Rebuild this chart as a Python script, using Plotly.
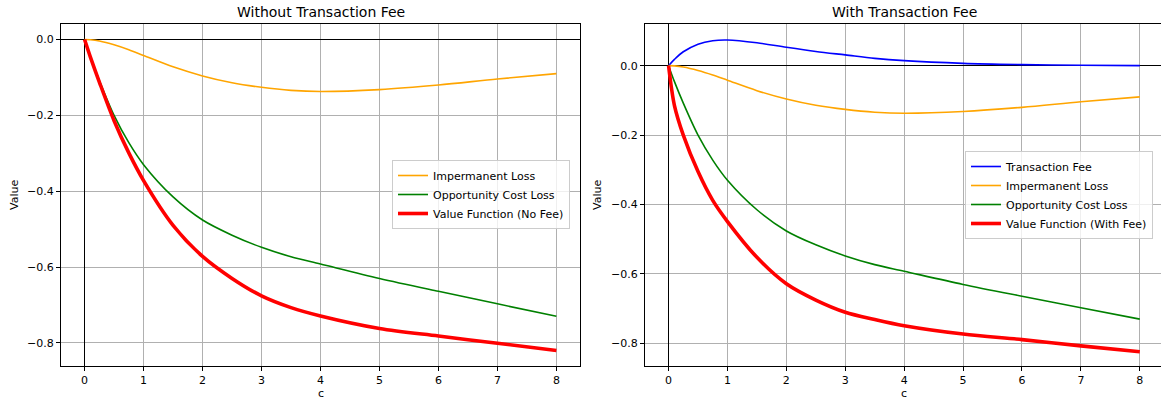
import plotly.graph_objects as go

# ---- data ----
c_vals = [0, 0.1, 0.25, 0.5, 0.75, 1, 1.5, 2, 2.5, 3, 3.5, 4, 5, 6, 7, 8]

transaction_fee = [0.0, 0.018, 0.040, 0.062, 0.072, 0.074, 0.066, 0.053, 0.041, 0.031, 0.021, 0.0144, 0.0067, 0.003, 0.001, 0.0]
impermanent_loss = [0.0, -0.0007, -0.004, -0.014, -0.027, -0.042, -0.072, -0.096, -0.114, -0.126, -0.134, -0.137, -0.132, -0.120, -0.104, -0.090]
opportunity_cost = [0.0, -0.046, -0.108, -0.200, -0.272, -0.330, -0.415, -0.476, -0.516, -0.548, -0.573, -0.592, -0.630, -0.664, -0.697, -0.730]
value_no_fee = [0.0, -0.047, -0.112, -0.214, -0.299, -0.372, -0.490, -0.572, -0.630, -0.676, -0.707, -0.729, -0.762, -0.782, -0.801, -0.820]
value_with_fee = [0.0, -0.115, -0.200, -0.305, -0.388, -0.449, -0.552, -0.628, -0.675, -0.710, -0.731, -0.749, -0.773, -0.789, -0.807, -0.824]

x_tick_vals = [0, 1, 2, 3, 4, 5, 6, 7, 8]
x_tick_text = ["0", "1", "2", "3", "4", "5", "6", "7", "8"]
y_tick_vals = [0.0, -0.2, -0.4, -0.6, -0.8]
y_tick_text = ["0.0", "\u22120.2", "\u22120.4", "\u22120.6", "\u22120.8"]

titles = ["Without Transaction Fee", "With Transaction Fee"]

W, H = 1161, 400
FONT = "DejaVu Sans"

fig = go.Figure()

def add(x, y, name, color, width, xa, ya, legend):
    fig.add_trace(go.Scatter(
        x=x, y=y, name=name, mode="lines",
        line=dict(color=color, width=width, shape="spline", smoothing=0.9),
        xaxis=xa, yaxis=ya, legend=legend, hoverinfo="skip",
    ))

# left panel
add(c_vals, impermanent_loss, "Impermanent Loss", "orange", 1.6, "x", "y", "legend")
add(c_vals, opportunity_cost, "Opportunity Cost Loss", "green", 1.6, "x", "y", "legend")
add(c_vals, value_no_fee, "Value Function (No Fee)", "red", 3.6, "x", "y", "legend")

# right panel
add(c_vals, transaction_fee, "Transaction Fee", "blue", 1.6, "x2", "y2", "legend2")
add(c_vals, impermanent_loss, "Impermanent Loss", "orange", 1.6, "x2", "y2", "legend2")
add(c_vals, opportunity_cost, "Opportunity Cost Loss", "green", 1.6, "x2", "y2", "legend2")
add(c_vals, value_with_fee, "Value Function (With Fee)", "red", 3.6, "x2", "y2", "legend2")

def px_x(p):
    return p / W

def px_y(p):
    return 1 - p / H

axis_common = dict(
    showgrid=True, gridcolor="#b0b0b0", gridwidth=0.8,
    zeroline=True, zerolinecolor="black", zerolinewidth=1,
    showline=True, mirror=True, linecolor="black", linewidth=1,
    ticks="outside", ticklen=4, tickcolor="black", tickwidth=1,
    tickfont=dict(family=FONT, size=11, color="black"),
    automargin=False, fixedrange=True,
)

L_dom = [px_x(61), px_x(580)]
R_dom = [px_x(645), 1.0]
Y_dom = [px_y(366), px_y(24)]

legend_common = dict(
    xanchor="left", yanchor="top",
    bgcolor="rgba(255,255,255,0.8)", bordercolor="#cccccc", borderwidth=1,
    font=dict(family=FONT, size=11, color="black"),
    itemwidth=30, tracegroupgap=0,
)

fig.update_layout(
    width=W, height=H,
    margin=dict(l=0, r=0, t=0, b=0),
    paper_bgcolor="white", plot_bgcolor="white",
    font=dict(family=FONT, size=11, color="black"),
    xaxis=dict(domain=L_dom, range=[-0.4, 8.4], anchor="y",
               tickvals=x_tick_vals, ticktext=x_tick_text, **axis_common),
    yaxis=dict(domain=Y_dom, range=[-0.861, 0.041], anchor="x",
               tickvals=y_tick_vals, ticktext=y_tick_text, **axis_common),
    xaxis2=dict(domain=R_dom, range=[-0.4, 8.36], anchor="y2",
                tickvals=x_tick_vals, ticktext=x_tick_text, **axis_common),
    yaxis2=dict(domain=Y_dom, range=[-0.865, 0.12], anchor="x2",
                tickvals=y_tick_vals, ticktext=y_tick_text, **axis_common),
    legend=dict(x=px_x(392), y=px_y(160), **legend_common),
    legend2=dict(x=px_x(965), y=px_y(151), **legend_common),
    showlegend=True,
)

annos = []
centers = [(61 + 580) / 2, (645 + 1163) / 2]
for cx, t in zip(centers, titles):
    annos.append(dict(text=t, x=px_x(cx), y=px_y(12), xref="paper", yref="paper",
                      xanchor="center", yanchor="middle", showarrow=False,
                      font=dict(family=FONT, size=14, color="black")))
    annos.append(dict(text="c", x=px_x(cx), y=px_y(393), xref="paper", yref="paper",
                      xanchor="center", yanchor="middle", showarrow=False,
                      font=dict(family=FONT, size=11, color="black")))
for vx in [14, 597]:
    annos.append(dict(text="Value", x=px_x(vx), y=px_y(195), xref="paper", yref="paper",
                      xanchor="center", yanchor="middle", showarrow=False, textangle=-90,
                      font=dict(family=FONT, size=11, color="black")))
fig.update_layout(annotations=annos)

fig.write_html("out.html")
